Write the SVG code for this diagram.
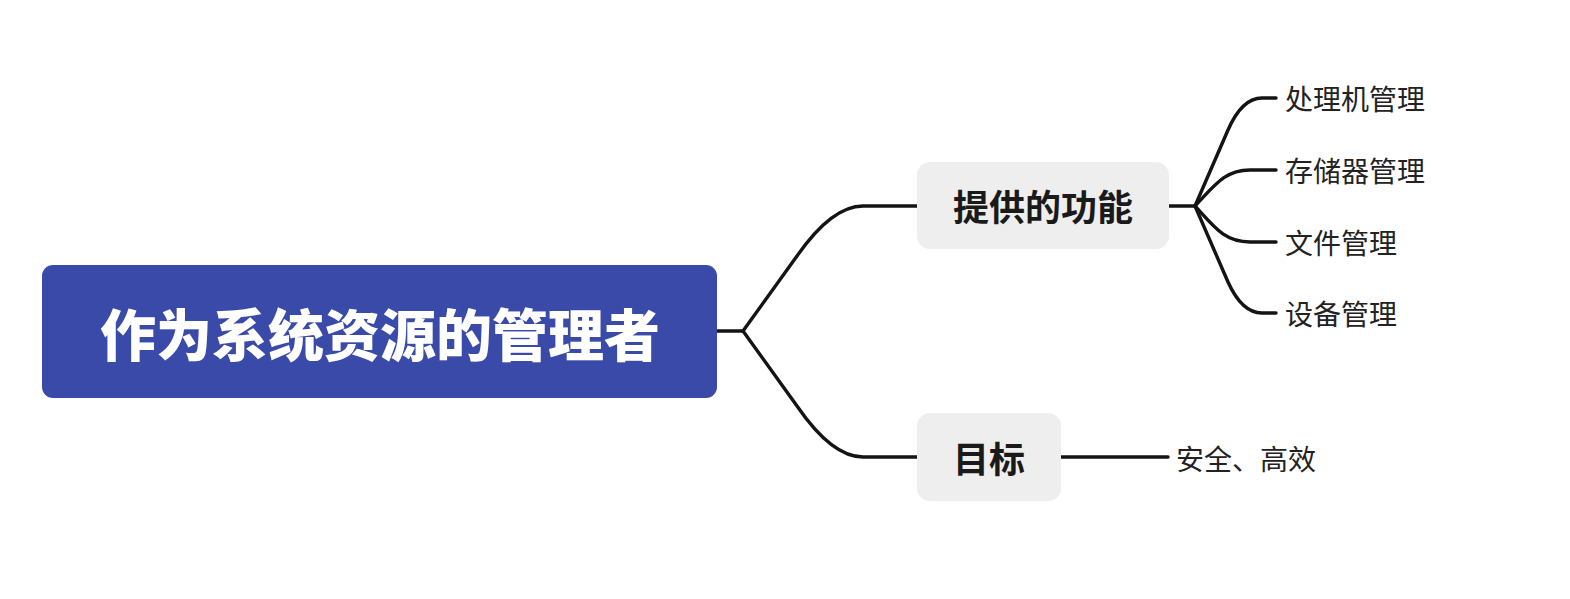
<svg xmlns="http://www.w3.org/2000/svg" width="1570" height="599" viewBox="0 0 1570 599">
<style>
.t{font-family:"Noto Sans CJK SC","Noto Sans",sans-serif;dominant-baseline:central}
.root{fill:#3a4aa9}
.rt{fill:#ffffff;font-size:56px;font-weight:900;text-anchor:middle}
.sub{fill:#eeeeee}
.st{fill:#1a1a1a;font-size:36px;font-weight:700;text-anchor:middle}
.lt{fill:#222222;font-size:28px;font-weight:400}
.c{fill:none;stroke:#141414;stroke-width:3.4;stroke-linecap:round;stroke-linejoin:round}
</style>
<rect width="1570" height="599" fill="#ffffff"/>
<g id="connectors">
<path class="c" d="M717,331 L743,331"/>
<path class="c" d="M743,331 L797,256 Q832,206 863,206 L917,206"/>
<path class="c" d="M743,331 L797,406 Q832,457 863,457 L917,457"/>
<path class="c" d="M1168,206 L1195,206"/>
<path class="c" d="M1195,206 L1228,130 Q1242,98 1262,98 L1276,98"/>
<path class="c" d="M1195,206 C1215,185 1225,170 1250,170 L1276,170"/>
<path class="c" d="M1195,206 C1215,228 1225,242 1250,242 L1276,242"/>
<path class="c" d="M1195,206 L1228,282 Q1242,313 1262,313 L1276,313"/>
<path class="c" d="M1061,457 L1168,457"/>
</g>
<g id="root">
<rect class="root" x="42" y="265" width="675" height="133" rx="11"/>
<text class="t rt" x="380" y="331">作为系统资源的管理者</text>
</g>
<g id="node-functions">
<rect class="sub" x="917" y="162" width="252" height="87" rx="13"/>
<text class="t st" x="1043" y="205">提供的功能</text>
</g>
<g id="node-goal">
<rect class="sub" x="917" y="413" width="144" height="88" rx="13"/>
<text class="t st" x="989" y="457">目标</text>
</g>
<g id="leaf-1"><text class="t lt" x="1285" y="98">处理机管理</text></g>
<g id="leaf-2"><text class="t lt" x="1285" y="170">存储器管理</text></g>
<g id="leaf-3"><text class="t lt" x="1285" y="242">文件管理</text></g>
<g id="leaf-4"><text class="t lt" x="1285" y="313">设备管理</text></g>
<g id="leaf-5"><text class="t lt" x="1176" y="458">安全、高效</text></g>
</svg>
